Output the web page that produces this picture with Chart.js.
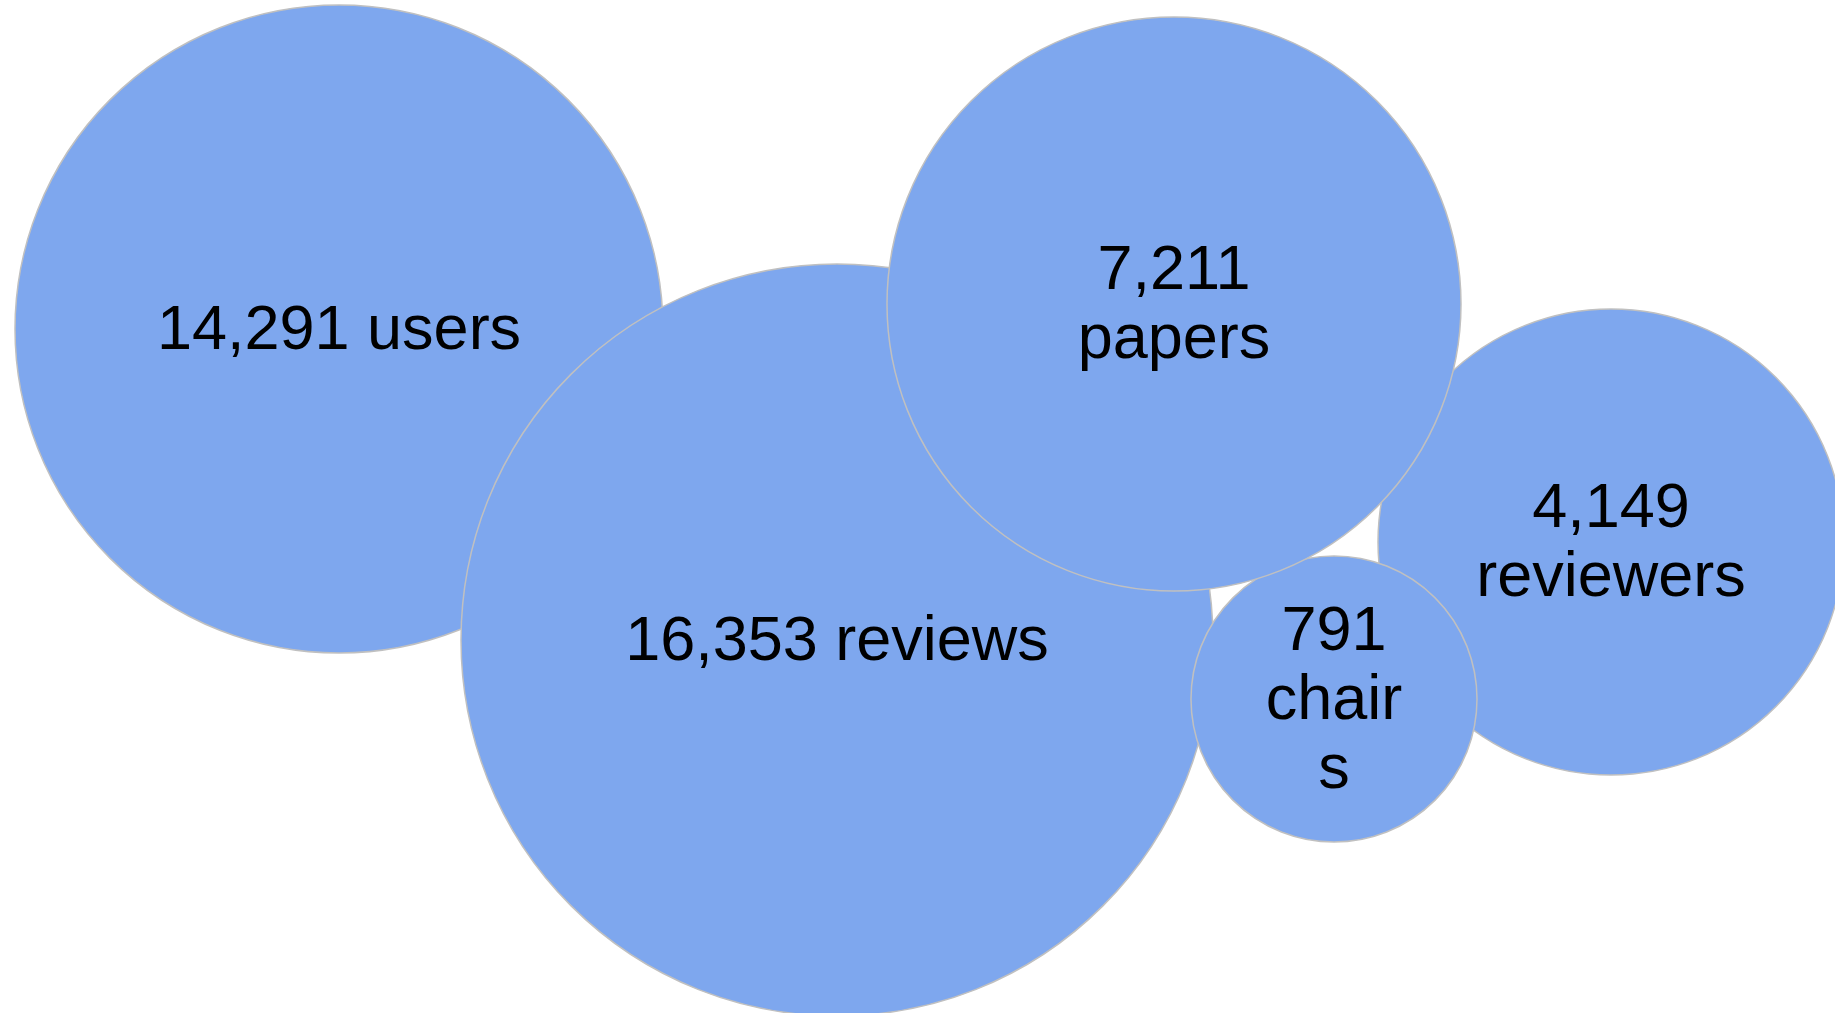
<!DOCTYPE html>
<html>
<head>
<meta charset="utf-8">
<script src="https://cdn.jsdelivr.net/npm/chart.js@4"></script>
<style>
  body { margin: 0; background: #fff; }
  #bubbles { display: block; }
</style>
</head>
<body>
<canvas id="bubbles" width="1835" height="1013"></canvas>
<script>
// data, in draw order (back to front)
const names = ['users', 'reviews', 'reviewers', 'chairs', 'papers'];
const counts = [14291, 16353, 4149, 791, 7211];
const bubbleX = [339, 837, 1611, 1334, 1174];
const bubbleY = [329, 640, 542, 699, 304];
const bubbleR = [324, 376, 233, 143, 287];
// how each label wraps inside its bubble
const labelLines = [
  ['14,291 users'],
  ['16,353 reviews'],
  ['4,149', 'reviewers'],
  ['791', 'chair', 's'],
  ['7,211', 'papers']
];

let points = names.map((n, i) => ({ x: bubbleX[i], y: bubbleY[i], r: bubbleR[i], count: counts[i] }));

// centred text on each bubble
const bubbleLabels = {
  id: 'bubbleLabels',
  afterDatasetsDraw(chart) {
    const ctx = chart.ctx;
    const meta = chart.getDatasetMeta(0);
    const size = 63, lh = 69;
    ctx.save();
    ctx.font = size + 'px "Liberation Sans", Arial, sans-serif';
    ctx.fillStyle = '#000';
    ctx.textAlign = 'center';
    ctx.textBaseline = 'alphabetic';
    meta.data.forEach((el, i) => {
      const lines = labelLines[i];
      lines.forEach((t, j) => {
        const y = el.y + (j - (lines.length - 1) / 2) * lh + size * 0.31;
        ctx.fillText(t, el.x, y);
      });
    });
    ctx.restore();
  }
};

let chart = new Chart(document.querySelector('#bubbles'), {
  type: 'bubble',
  data: {
    datasets: [{
      data: points,
      backgroundColor: '#7ea7ee',
      borderColor: '#c0c0c0',
      borderWidth: 1.5,
      hoverRadius: 0,
      clip: false
    }]
  },
  options: {
    responsive: false,
    animation: false,
    events: [],
    layout: { padding: 0, autoPadding: false },
    plugins: { legend: { display: false }, tooltip: { enabled: false } },
    scales: {
      x: { type: 'linear', min: 0, max: 1835, display: false },
      y: { type: 'linear', min: 0, max: 1013, reverse: true, display: false }
    }
  },
  plugins: [bubbleLabels]
});
</script>
</body>
</html>
